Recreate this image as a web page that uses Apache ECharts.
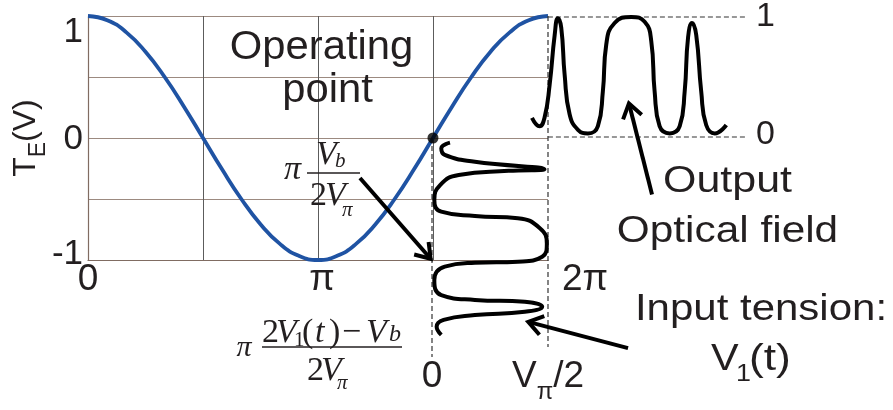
<!DOCTYPE html>
<html>
<head>
<meta charset="utf-8">
<script src="https://cdn.jsdelivr.net/npm/echarts@6/dist/echarts.min.js"></script>
<style>
  html, body { margin: 0; padding: 0; background: #ffffff; }
  #c { width: 893px; height: 410px; }
</style>
</head>
<body>
<div id="c"></div>
<script>
// ---- Transfer function T_E versus phase (radians) ----
const phase = [0, 0.262, 0.524, 0.785, 1.047, 1.309, 1.571, 1.833, 2.094, 2.356, 2.618, 2.880,
  3.142, 3.403, 3.665, 3.927, 4.189, 4.451, 4.712, 4.974, 5.236, 5.498, 5.760, 6.021, 6.283];
const transfer = [1, 0.966, 0.866, 0.707, 0.5, 0.259, 0, -0.259, -0.5, -0.707, -0.866, -0.966,
  -1, -0.966, -0.866, -0.707, -0.5, -0.259, 0, 0.259, 0.5, 0.707, 0.866, 0.966, 1];
const phaseTickLabels = ['0', '', 'π', '', '2π'];
const transferTickLabels = { '-1': '-1', '0': '0', '1': '1' };
const operatingPoint = [4.712, 0];

// ---- Input drive V1(t): amplitude (fraction of Vπ/2) against time, time runs downward ----
const inputLevel = [0.155, 0.08, 0.11, 0.37, 0.97, 0.66, 0.23, 0.07, 0.02, 0.08, 0.37, 0.74, 0.93,
  0.99, 0.95, 0.74, 0.37, 0.11, 0.02, 0.08, 0.37, 0.80, 0.95, 0.80, 0.37, 0.10, 0.04, 0.08];
const inputTime = [0.21, 0.47, 0.77, 1.08, 1.42, 1.49, 1.68, 2.14, 2.82, 3.35, 3.55, 3.65, 4.10,
  4.79, 5.40, 5.62, 5.67, 5.85, 6.45, 7.14, 7.36, 7.44, 7.67, 7.90, 8.05, 8.27, 8.58, 8.95];
const inputRange = [0, 1];          // 0 .. Vπ/2
const inputTickLabels = ['0', 'Vπ/2'];

// ---- Output optical field: normalised intensity against time ----
const outputTime = [-0.80, -0.42, -0.17, 0.09, 0.34, 0.50, 0.67, 0.84, 1.09, 1.51, 2.01, 2.51, 2.76,
  2.93, 3.35, 4.19, 4.86, 5.19, 5.36, 5.61, 6.12, 6.62, 6.87, 7.04, 7.24, 7.45, 7.70, 7.95, 8.38, 8.96];
const outputLevel = [0.16, 0.09, 0.16, 0.44, 0.85, 0.99, 0.91, 0.52, 0.19, 0.06, 0.03, 0.09, 0.38,
  0.77, 0.95, 1.0, 0.96, 0.80, 0.38, 0.09, 0.03, 0.09, 0.38, 0.83, 0.95, 0.85, 0.38, 0.10, 0.03, 0.10];
const outputTimeRange = [-1, 10];
const outputTickLabels = { '0': '0', '1': '1' };

// ---- Guide lines (data units of their own panel) ----
const inputGuideZero = [[0, 0], [0, 9.95]];
const inputGuideHalf = [[1, -5.55], [1, 9.5]];
const outputGuideTop = [[0, 1], [10, 1]];
const outputGuideBottom = [[0, 0], [10, 0]];

// ---- Arrows: [tail, head] in each panel's data units ----
const arrowBias = [[3.715, -0.328], [4.68, -0.99]];
const arrowOutput = [[5.23, -0.48], [4.07, 0.28]];
const arrowInput = [[1.69, 9.55], [0.83, 8.36]];

const SANS = '"Liberation Sans", Arial, Helvetica, sans-serif';
const SERIF = '"Liberation Serif", "Times New Roman", serif';
const INK = '#231f20';
const zip = (a, b) => a.map((v, i) => [v, b[i]]);

const dashed = { color: '#333333', width: 1.2, type: [5, 3] };

const option = {
  animation: false,
  backgroundColor: '#ffffff',
  grid: [
    { left: 88, top: 16, width: 460, height: 244 },
    { left: 432, top: 138, width: 116, height: 220 },
    { left: 528, top: 17, width: 219, height: 120 }
  ],
  xAxis: [
    {
      gridIndex: 0, type: 'value', min: 0, max: 2 * Math.PI, interval: Math.PI / 2,
      axisLine: { show: true, onZero: false, lineStyle: { color: '#806c62', width: 1.2 } },
      axisTick: { show: false },
      splitLine: { show: true, showMinLine: false, showMaxLine: false, lineStyle: { color: '#5c5c5c', width: 1 } },
      axisLabel: {
        margin: 1,
        formatter: v => {
          const lbl = phaseTickLabels[Math.round(v / (Math.PI / 2))] || '';
          if (!lbl) return '';
          const key = lbl === '0' ? 'z' : (lbl === 'π' ? 'p' : 'q');
          return '{' + key + '|' + lbl + '}';
        },
        rich: {
          z: { fontSize: 37, fontFamily: SANS, color: INK },
          p: { fontSize: 37, fontFamily: SANS, color: INK, padding: [0, 0, 0, 8] },
          q: { fontSize: 37, fontFamily: SANS, color: INK, padding: [0, 0, 0, 74] }
        }
      }
    },
    {
      gridIndex: 1, type: 'value', min: inputRange[0], max: inputRange[1], interval: 1,
      axisLine: { show: false }, axisTick: { show: false }, splitLine: { show: false },
      axisLabel: {
        margin: -8, lineHeight: 54,
        formatter: v => {
          const lbl = inputTickLabels[Math.round(v)];
          if (lbl === 'Vπ/2') return '{v|V}{s|π}{v|/2}';
          return '{v|' + lbl + '}';
        },
        rich: {
          v: { fontSize: 37, fontFamily: SANS, color: INK },
          s: { fontSize: 24, fontFamily: SANS, color: INK, padding: [30, 0, 0, 0] }
        }
      }
    },
    { gridIndex: 2, type: 'value', min: outputTimeRange[0], max: outputTimeRange[1], show: false }
  ],
  yAxis: [
    {
      gridIndex: 0, type: 'value', min: -1, max: 1, interval: 0.5,
      axisLine: { show: true, onZero: false, lineStyle: { color: '#806c62', width: 1.2 } },
      axisTick: { show: false },
      splitLine: { show: true, showMinLine: false, lineStyle: { color: '#9c8a80', width: 1 } },
      axisLabel: {
        margin: 5,
        formatter: v => {
          const lbl = transferTickLabels[String(v)];
          if (!lbl) return '';
          const key = v === 1 ? 'a' : (v === 0 ? 'b' : 'c');
          return '{' + key + '|' + lbl + '}';
        },
        rich: {
          a: { fontSize: 35, fontFamily: SANS, color: INK, padding: [32, 0, 0, 0] },
          b: { fontSize: 35, fontFamily: SANS, color: INK, padding: [3, 0, 0, 0] },
          c: { fontSize: 35, fontFamily: SANS, color: INK, padding: [0, 0, 12, 0] }
        }
      },
      name: '{t|T}{e|E}{t|(V)}',
      nameLocation: 'middle',
      nameRotate: 90,
      nameGap: 38,
      nameMoveOverlap: false,
      nameTextStyle: {
        rich: {
          t: { fontSize: 32, fontFamily: SANS, color: INK },
          e: { fontSize: 23, fontFamily: SANS, color: INK, padding: [25, 0, 0, 0] }
        }
      }
    },
    { gridIndex: 1, type: 'value', min: 0, max: 10, inverse: true, show: false },
    {
      gridIndex: 2, type: 'value', min: 0, max: 1, interval: 1, position: 'right',
      axisLine: { show: false }, axisTick: { show: false }, splitLine: { show: false },
      axisLabel: {
        margin: 9,
        formatter: v => {
          const lbl = outputTickLabels[String(v)];
          if (lbl === undefined) return '';
          return v === 0 ? '{z|0}' : '{o|' + lbl + '}';
        },
        rich: {
          o: { fontSize: 34, fontFamily: SANS, color: INK },
          z: { fontSize: 34, fontFamily: SANS, color: INK, padding: [0, 0, 5, 0] }
        }
      }
    }
  ],
  series: [
    {
      name: 'T_E', type: 'line', xAxisIndex: 0, yAxisIndex: 0,
      data: zip(phase, transfer), smooth: true, showSymbol: false,
      lineStyle: { color: '#1f53a3', width: 3.8 }, z: 3
    },
    {
      type: 'line', xAxisIndex: 1, yAxisIndex: 1, data: inputGuideZero, clip: false,
      showSymbol: false, lineStyle: dashed, z: 4, silent: true
    },
    {
      type: 'line', xAxisIndex: 1, yAxisIndex: 1, data: inputGuideHalf, clip: false,
      showSymbol: false, lineStyle: dashed, z: 4, silent: true
    },
    {
      type: 'line', xAxisIndex: 2, yAxisIndex: 2, data: outputGuideTop, clip: false,
      showSymbol: false, lineStyle: dashed, z: 4, silent: true
    },
    {
      type: 'line', xAxisIndex: 2, yAxisIndex: 2, data: outputGuideBottom, clip: false,
      showSymbol: false, lineStyle: dashed, z: 4, silent: true
    },
    {
      name: 'V1(t)', type: 'line', xAxisIndex: 1, yAxisIndex: 1,
      data: zip(inputLevel, inputTime), smooth: 0.5, showSymbol: false, clip: false,
      lineStyle: { color: '#000000', width: 4 }, z: 5
    },
    {
      name: 'Output', type: 'line', xAxisIndex: 2, yAxisIndex: 2,
      data: zip(outputTime, outputLevel), smooth: 0.5, showSymbol: false, clip: false,
      lineStyle: { color: '#000000', width: 4 }, z: 5
    },
    {
      name: 'Operating point', type: 'scatter', xAxisIndex: 0, yAxisIndex: 0,
      data: [operatingPoint], symbolSize: 11, itemStyle: { color: '#000000' }, z: 6
    }
  ]
};

const chart = echarts.init(document.getElementById('c'), null, { renderer: 'canvas' });
chart.setOption(option);

const toPx = (g, p) => chart.convertToPixel({ gridIndex: g }, p);

function arrow(g, pts) {
  const [x1, y1] = toPx(g, pts[0]);
  const [x2, y2] = toPx(g, pts[1]);
  const a = Math.atan2(y2 - y1, x2 - x1);
  const L = 17, th = 0.6;
  const w1 = [x2 - L * Math.cos(a - th), y2 - L * Math.sin(a - th)];
  const w2 = [x2 - L * Math.cos(a + th), y2 - L * Math.sin(a + th)];
  const sx = x2 - 2 * Math.cos(a), sy = y2 - 2 * Math.sin(a);
  return [
    { type: 'line', z: 60, shape: { x1, y1, x2: sx, y2: sy }, style: { stroke: '#000', lineWidth: 4 } },
    { type: 'polyline', z: 60, shape: { points: [w1, [x2, y2], w2] },
      style: { stroke: '#000', lineWidth: 4, fill: null, lineJoin: 'miter' } }
  ];
}

function txt(text, x, y, font, align, sx) {
  return {
    type: 'text', x, y, scaleX: sx || 1, z: 70,
    style: {
      text, font, fill: INK,
      align: align || 'center', verticalAlign: 'middle',
      textAlign: align || 'center', textVerticalAlign: 'middle'
    }
  };
}

function bar(x1, x2, y) {
  return { type: 'line', z: 70, shape: { x1, y1: y, x2, y2: y }, style: { stroke: INK, lineWidth: 1.5 } };
}

const it34 = 'italic 34px ' + SERIF;
const rm34 = '34px ' + SERIF;
const it21 = 'italic 21px ' + SERIF;
const rm21 = '21px ' + SERIF;

const graphics = [].concat(
  arrow(0, arrowBias),
  arrow(2, arrowOutput),
  arrow(1, arrowInput),
  [
    // annotation captions
    txt('Operating', 321.5, 47.8, '41px ' + SANS, 'center', 1.02),
    txt('point', 327.5, 90.8, '41px ' + SANS, 'center', 1.02),
    txt('Output', 727.5, 182.2, '37px ' + SANS, 'center', 1.16),
    txt('Optical field', 727.5, 232.2, '37px ' + SANS, 'center', 1.145),
    txt('Input tension:', 761, 310.2, '37px ' + SANS, 'center', 1.135),
    txt('V', 711, 360.2, '37px ' + SANS, 'left', 1.12),
    txt('1', 736, 374.7, '24px ' + SANS, 'left', 1.12),
    txt('(t)', 749, 360.2, '37px ' + SANS, 'left', 1.2),

    // bias phase: π Vb / 2Vπ
    txt('π', 292.5, 170.5, it34, 'center'),
    txt('V', 316, 155.5, it34, 'left'),
    txt('b', 335, 161, it21, 'left'),
    bar(307, 360, 173),
    txt('2', 310, 196.5, rm34, 'left'),
    txt('V', 325, 196.5, it34, 'left'),
    txt('π', 342, 210, it21, 'left'),

    // instantaneous phase: π (2V1(t) − Vb) / 2Vπ
    txt('π', 244, 348.5, 'italic 30px ' + SERIF, 'center'),
    txt('2', 262, 333.5, rm34, 'left'),
    txt('V', 276, 333.5, it34, 'left'),
    txt('1', 294, 340, rm21, 'left'),
    txt('(', 302, 333.5, rm34, 'left'),
    txt('t', 315, 333.5, it34, 'left'),
    txt(')', 329, 333.5, rm34, 'left'),
    txt('\u2212', 342, 333.5, rm34, 'left'),
    txt('V', 366, 333.5, it34, 'left'),
    txt('b', 389, 335, 'italic 24px ' + SERIF, 'left'),
    bar(262, 402, 347),
    txt('2', 307, 371.5, rm34, 'left'),
    txt('V', 321, 371.5, it34, 'left'),
    txt('π', 337, 383, it21, 'left')
  ]
);

chart.setOption({ graphic: { elements: graphics } });
</script>
</body>
</html>
